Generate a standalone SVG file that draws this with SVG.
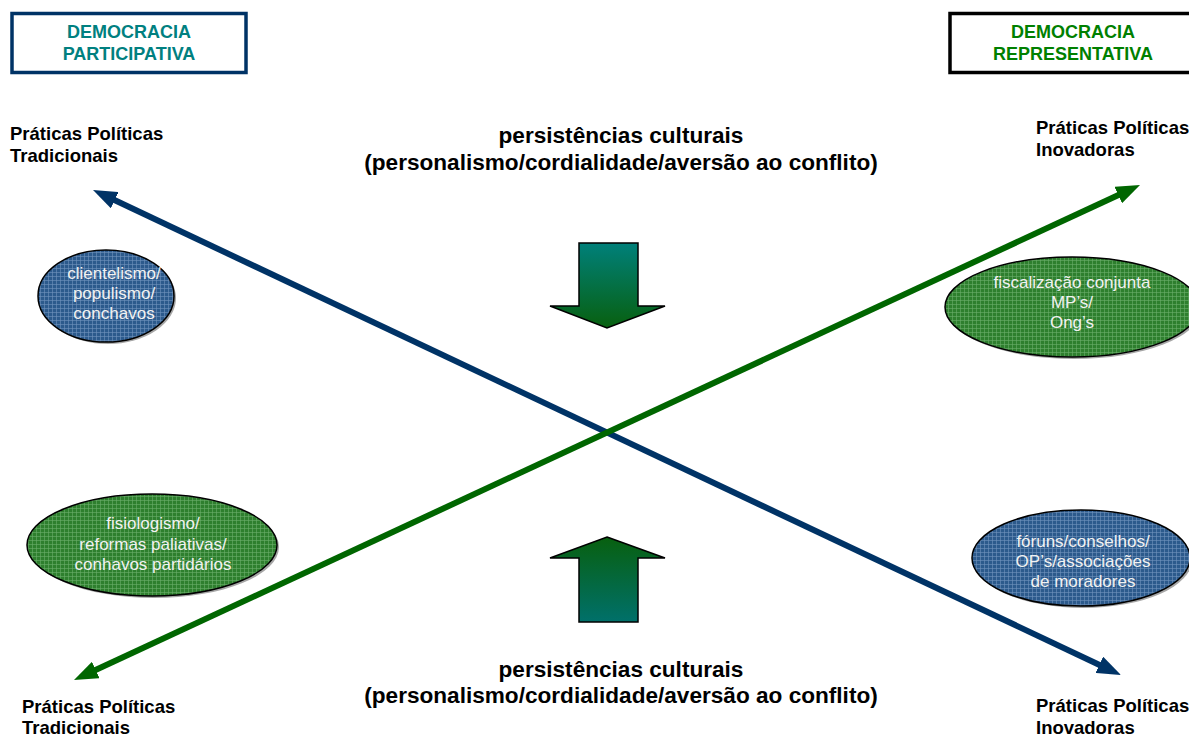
<svg xmlns="http://www.w3.org/2000/svg" width="1189" height="737" viewBox="0 0 1189 737">
<style>
.lbl{font-family:"Liberation Sans",Arial,sans-serif;font-weight:bold;font-size:18.5px;fill:#000}
.title{font-family:"Liberation Sans",Arial,sans-serif;font-weight:bold;font-size:22.6px;fill:#000;text-anchor:middle}
.box{font-family:"Liberation Sans",Arial,sans-serif;font-weight:bold;font-size:18px;text-anchor:middle}
.ell{font-family:"Liberation Sans",Arial,sans-serif;font-size:17px;fill:#f2f2f2;text-anchor:middle}
.eb{fill:url(#pBlue);stroke:#000;stroke-width:1.5}
.eg{fill:url(#pGreen);stroke:#000;stroke-width:1.5}
.sh{fill:#000;opacity:0.35}
</style>
<defs>
<pattern id="pBlue" width="4" height="4" patternUnits="userSpaceOnUse">
<rect width="4" height="4" fill="#2c5a8c"/>
<rect width="4" height="1" fill="#6f93bd" opacity="0.6"/>
<rect width="1" height="4" fill="#6f93bd" opacity="0.6"/>
</pattern>
<pattern id="pGreen" width="4" height="4" patternUnits="userSpaceOnUse">
<rect width="4" height="4" fill="#2e7f2e"/>
<rect width="4" height="1" fill="#6aad6a" opacity="0.6"/>
<rect width="1" height="4" fill="#6aad6a" opacity="0.6"/>
</pattern>
<linearGradient id="gDown" x1="0" y1="0" x2="0" y2="1">
<stop offset="0" stop-color="#00807a"/>
<stop offset="1" stop-color="#08600f"/>
</linearGradient>
<linearGradient id="gUp" x1="0" y1="0" x2="0" y2="1">
<stop offset="0" stop-color="#08600f"/>
<stop offset="1" stop-color="#00706a"/>
</linearGradient>
<marker id="mBlue" viewBox="0 0 24 18" markerUnits="userSpaceOnUse" markerWidth="24" markerHeight="18" refX="8" refY="9" orient="auto-start-reverse">
<path d="M0,0 L24,9 L0,18 z" fill="#003366"/>
</marker>
<marker id="mGreen" viewBox="0 0 24 18" markerUnits="userSpaceOnUse" markerWidth="24" markerHeight="18" refX="8" refY="9" orient="auto-start-reverse">
<path d="M0,0 L24,9 L0,18 z" fill="#006600"/>
</marker>
</defs>

<g id="box-participativa">
<rect x="12" y="13.5" width="234" height="59" fill="#fff" stroke="#003366" stroke-width="3.5"/>
<text class="box" x="129" y="38" fill="#008080">DEMOCRACIA</text>
<text class="box" x="129" y="60" fill="#008080">PARTICIPATIVA</text>
</g>
<g id="box-representativa">
<rect x="950" y="13.5" width="245" height="59" fill="#fff" stroke="#000" stroke-width="3.5"/>
<text class="box" x="1073" y="38" fill="#008000">DEMOCRACIA</text>
<text class="box" x="1073" y="60" fill="#008000">REPRESENTATIVA</text>
</g>

<g id="label-top-left">
<text class="lbl" x="10" y="140">Práticas Políticas</text>
<text class="lbl" x="10" y="162">Tradicionais</text>
</g>
<g id="label-top-right">
<text class="lbl" x="1036" y="134">Práticas Políticas</text>
<text class="lbl" x="1036" y="156">Inovadoras</text>
</g>
<g id="label-bottom-left">
<text class="lbl" x="22" y="713">Práticas Políticas</text>
<text class="lbl" x="22" y="734">Tradicionais</text>
</g>
<g id="label-bottom-right">
<text class="lbl" x="1036" y="712">Práticas Políticas</text>
<text class="lbl" x="1036" y="734">Inovadoras</text>
</g>

<g id="title-top">
<text class="title" x="621" y="143">persistências culturais</text>
<text class="title" x="621" y="170">(personalismo/cordialidade/aversão ao conflito)</text>
</g>
<g id="title-bottom">
<text class="title" x="621" y="677">persistências culturais</text>
<text class="title" x="621" y="703">(personalismo/cordialidade/aversão ao conflito)</text>
</g>

<g id="arrow-down">
<path d="M579,243 L638,243 L638,306 L665,306 L607,328 L550,306 L579,306 z" fill="url(#gDown)" stroke="#000" stroke-width="1.5"/>
</g>
<g id="arrow-up">
<path d="M607,537 L665,558 L638,558 L638,622 L579,622 L579,558 L550,558 z" fill="url(#gUp)" stroke="#000" stroke-width="1.5"/>
</g>

<g id="ellipse-clientelismo">
<ellipse class="sh" cx="108" cy="298" rx="68" ry="46"/>
<ellipse class="eb" cx="106" cy="296" rx="68" ry="46"/>
<text class="ell" x="114" y="279">clientelismo/</text>
<text class="ell" x="114" y="299">populismo/</text>
<text class="ell" x="114" y="319">conchavos</text>
</g>
<g id="ellipse-fiscalizacao">
<ellipse class="sh" cx="1074" cy="309" rx="127" ry="50"/>
<ellipse class="eg" cx="1072" cy="307" rx="127" ry="50"/>
<text class="ell" x="1072" y="288">fiscalização conjunta</text>
<text class="ell" x="1072" y="308">MP’s/</text>
<text class="ell" x="1072" y="328">Ong’s</text>
</g>
<g id="ellipse-fisiologismo">
<ellipse class="sh" cx="154" cy="547" rx="125" ry="51"/>
<ellipse class="eg" cx="152" cy="545" rx="125" ry="51"/>
<text class="ell" x="153" y="529">fisiologismo/</text>
<text class="ell" x="153" y="550">reformas paliativas/</text>
<text class="ell" x="153" y="570">conhavos partidários</text>
</g>
<g id="ellipse-foruns">
<ellipse class="sh" cx="1083" cy="560" rx="109" ry="48"/>
<ellipse class="eb" cx="1081" cy="558" rx="109" ry="48"/>
<text class="ell" x="1083" y="547">fóruns/conselhos/</text>
<text class="ell" x="1083" y="567">OP’s/associações</text>
<text class="ell" x="1083" y="587">de moradores</text>
</g>

<g id="connectors">
<line x1="107.5" y1="196.8" x2="1106.5" y2="668.2" stroke="#003366" stroke-width="6" marker-start="url(#mBlue)" marker-end="url(#mBlue)"/>
<line x1="88.5" y1="673.3" x2="1125.5" y2="191.7" stroke="#006600" stroke-width="6" marker-start="url(#mGreen)" marker-end="url(#mGreen)"/>
</g>
</svg>
